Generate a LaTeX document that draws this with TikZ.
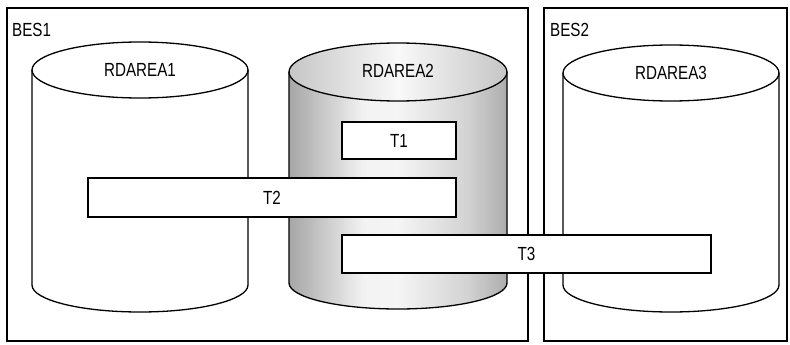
\documentclass[tikz,border=0pt]{standalone}
\usepackage{fontspec}
\setmainfont{Liberation Sans}[FakeStretch=0.8]
\usetikzlibrary{positioning}
\pgfdeclarehorizontalshading{dbshade}{100bp}{
  color(0bp)=(gray!70); color(25bp)=(gray!70); color(42bp)=(gray!10);
  color(50bp)=(gray!8); color(66bp)=(gray!35); color(75bp)=(gray!65); color(100bp)=(gray!65)}
\tikzset{
  server/.style={draw,line width=1.3pt},
  dbline/.style={draw,line width=1.3pt},
  tbl/.style={draw,fill=white,line width=1.3pt,inner sep=0pt,minimum height=38pt},
  lbl/.style={inner sep=0pt,font=\fontsize{19}{22}\selectfont}
}

\begin{document}
\begin{tikzpicture}[x=1pt,y=1pt]
  \useasboundingbox (0,0) rectangle (790,-345);
  % back-end servers
  \draw[server] (7,-8) rectangle (528,-341);
  \draw[server] (544,-8) rectangle (787,-341);
  \node[lbl,anchor=west] (bes1) at (12,-30) {BES1};
  \node[lbl,anchor=west] (bes2) at (550,-30) {BES2};
  % RDAREA1 and RDAREA3
  \foreach \xl/\xr/\yt/\yb in {32/248/70/285, 563/779/73/285}{
    \draw[dbline,fill=white] (\xl,-\yt) -- (\xl,-\yb)
      arc[start angle=180,end angle=360,x radius={(\xr-\xl)/2},y radius=27]
      -- (\xr,-\yt);
    \draw[dbline,fill=white] ({(\xl+\xr)/2},-\yt) ellipse[x radius={(\xr-\xl)/2},y radius=28];
  }
  % RDAREA2, shaded
  \shade[shading=dbshade]
    (289,-72) -- (289,-283)
    arc[start angle=180,end angle=360,x radius=109,y radius=26] -- (507,-72) -- cycle;
  \draw[dbline] (289,-72) -- (289,-283)
    arc[start angle=180,end angle=360,x radius=109,y radius=26] -- (507,-72);
  \shade[left color=gray!45,right color=gray!45,middle color=gray!5]
    (398,-72) ellipse[x radius=109,y radius=29];
  \draw[dbline] (398,-72) ellipse[x radius=109,y radius=29];
  \node[lbl] (rd1) at (140,-70) {RDAREA1};
  \node[lbl] (rd2) at (398,-71) {RDAREA2};
  \node[lbl] (rd3) at (671,-73) {RDAREA3};
  % tables
  \node[tbl,minimum width=114pt,minimum height=37pt] (t1) at (399,-140.5) {\fontsize{19}{22}\selectfont T1};
  \node[tbl,minimum width=368pt,minimum height=39pt] (t2) at (272,-197.5) {\fontsize{19}{22}\selectfont T2};
  \node[tbl,minimum width=369pt] (t3) at (526.5,-254) {\fontsize{19}{22}\selectfont T3};
\end{tikzpicture}
\end{document}
